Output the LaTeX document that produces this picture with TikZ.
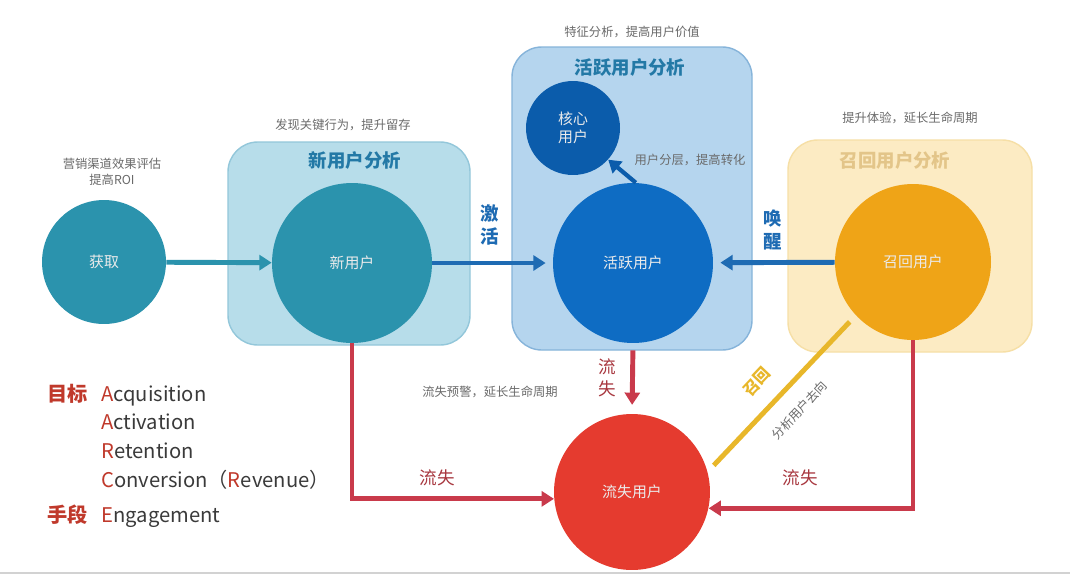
\documentclass[tikz,border=0pt]{standalone}
\usepackage{fontspec}
\setmainfont{Noto Sans CJK SC}
\usepackage{xcolor}
\usetikzlibrary{arrows.meta}
\definecolor{acqc}{HTML}{2B93AD}
\definecolor{newpanelc}{HTML}{B7DDEA}
\definecolor{newlinec}{HTML}{93C7DA}
\definecolor{newtitlec}{HTML}{2379A6}
\definecolor{actpanelc}{HTML}{B5D5EE}
\definecolor{actlinec}{HTML}{86B4DA}
\definecolor{actc}{HTML}{0E6CC3}
\definecolor{corec}{HTML}{0B5CAB}
\definecolor{bluec}{HTML}{1E6BB3}
\definecolor{recpanelc}{HTML}{FCEBC3}
\definecolor{reclinec}{HTML}{F6DFA6}
\definecolor{rectitlec}{HTML}{E3C589}
\definecolor{recc}{HTML}{EFA417}
\definecolor{lostc}{HTML}{E53B2F}
\definecolor{lossc}{HTML}{C93A4B}
\definecolor{losstextc}{HTML}{A8373F}
\definecolor{callc}{HTML}{E8B72A}
\definecolor{notec}{HTML}{6A6A6A}
\definecolor{listc}{HTML}{3A3A3A}
\definecolor{keyc}{HTML}{C0392B}
\tikzset{
  user/.style={circle, minimum size=#1, inner sep=0pt, text=white!92!black, font=\fontsize{8.5}{10.5}\selectfont, align=center},
  panel/.style={rounded corners=17pt, line width=0.8pt},
  title/.style={font=\fontsize{10.5}{12}\selectfont\bfseries},
  flow/.style={line width=2.8pt, -{Triangle[length=7pt,width=8.5pt]}},
  note/.style={text=notec, font=\fontsize{7}{9}\selectfont, align=center},
  verb/.style={font=\fontsize{10.5}{13}\selectfont\bfseries, align=center},
  listrow/.style={anchor=base west, inner sep=0pt, text=listc, font=\fontsize{11.5}{13}\selectfont},
  listhead/.style={anchor=base west, inner sep=0pt, text=keyc, font=\fontsize{11.5}{13}\selectfont\bfseries},
}
\newcommand{\keyl}[1]{\textcolor{keyc}{#1}}

\begin{document}
\begin{tikzpicture}[x=0.02cm, y=-0.02cm]
\fill[white] (0,0) rectangle (1070,575);
\useasboundingbox (0,0) rectangle (1070,575);
\draw[gray!35, line width=0.6pt] (0,573) -- (1070,573);

% panels
\draw[panel, fill=newpanelc, draw=newlinec] (228,142) rectangle (470,345);
\draw[panel, fill=actpanelc, draw=actlinec] (512,47) rectangle (752,350);
\draw[panel, fill=recpanelc, draw=reclinec] (788,140) rectangle (1032,352);
\node[title, text=newtitlec] (newtitle) at (355,161) {新用户分析};
\node[title, text=newtitlec] (acttitle) at (630,68) {活跃用户分析};
\node[title, text=rectitlec] (rectitle) at (895,161) {召回用户分析};

% users
\node[user=2.48cm, fill=acqc] (acq) at (104,262) {获取};
\node[user=3.2cm, fill=acqc] (newu) at (352,263) {新用户};
\node[user=3.2cm, fill=actc] (act) at (633,263) {活跃用户};
\node[user=1.88cm, fill=corec] (core) at (573,128) {核心\\用户};
\node[user=3.12cm, fill=recc] (rec) at (913,262) {召回用户};
\node[user=3.12cm, fill=lostc] (lost) at (632,492) {流失用户};

% notes
\node[note] (acqnote) at (112,172) {营销渠道效果评估\\提高ROI};
\node[note] (newnote) at (343,125) {发现关键行为，提升留存};
\node[note] (actnote) at (632,32) {特征分析，提高用户价值};
\node[note] (corenote) at (690,160) {用户分层，提高转化};
\node[note] (recnote) at (910,118) {提升体验，延长生命周期};
\node[note] (lostnote) at (490,392) {流失预警，延长生命周期};

% flows
\draw[flow, acqc] (acq) -- (newu);
\draw[flow, bluec, shorten >=4pt] (newu) -- (act);
\draw[flow, bluec, shorten >=4pt] (rec) -- (act);
\draw[flow, corec, line width=2.4pt] (act.88) -- (core.-42);
\node[verb, text=bluec] (activate) at (490,225) {激\\活};
\node[verb, text=bluec] (wake) at (773,230) {唤\\醒};

\draw[flow, lossc] (newu.south) |- (lost.185);
\draw[flow, lossc] (rec.south) |- (lost.-12);
\draw[flow, lossc, shorten <=4pt, shorten >=5pt] (act.south) -- (lost.north);
\node[verb, text=losstextc, font=\fontsize{10}{12.5}\selectfont] (lossmid) at (607,378) {流\\失};
\node[text=losstextc, font=\fontsize{10}{12}\selectfont] (lossleft) at (437,478) {流失};
\node[text=losstextc, font=\fontsize{10}{12}\selectfont] (lossright) at (800,478) {流失};

\draw[callc, line width=2.8pt, shorten <=5pt, shorten >=5pt] (lost.15) --
  node[pos=0.46, sloped, above=6pt, text=callc, font=\fontsize{9}{11}\selectfont\bfseries] (calllabel) {召回}
  node[pos=0.5, sloped, below=6pt, note] (callnote) {分析用户去向} (rec.223);

% list
\node[listhead] (goal) at (47,401) {目标};
\node[listrow] (aq) at (101,401) {\keyl{A}cquisition};
\node[listrow] (av) at (101,429) {\keyl{A}ctivation};
\node[listrow] (rt) at (101,458) {\keyl{R}etention};
\node[listrow] (cv) at (101,487) {\keyl{C}onversion（\keyl{R}evenue）};
\node[listhead] (means) at (47,522) {手段};
\node[listrow] (eg) at (101,522) {\keyl{E}ngagement};
\end{tikzpicture}
\end{document}
